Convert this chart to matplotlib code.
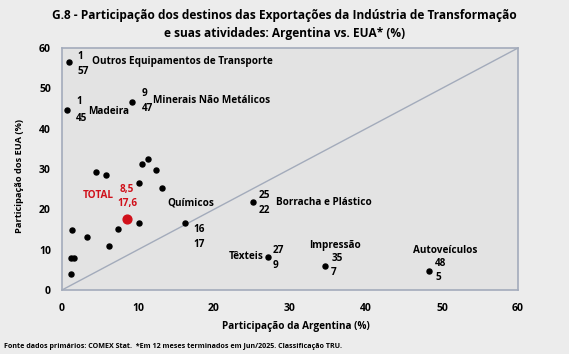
import matplotlib
matplotlib.use("Agg")
import matplotlib.pyplot as plt

# participação (%) de cada atividade: Argentina (x) vs EUA (y)
labeled_names = ["Outros Equipamentos de Transporte", "Madeira", "Minerais Não Metálicos",
                 "Químicos", "Borracha e Plástico", "Têxteis", "Impressão", "Autoveículos"]
labeled_arg = [0.9, 0.7, 9.2, 16.2, 25.1, 27.1, 34.6, 48.3]
labeled_eua = [56.6, 44.6, 46.6, 16.5, 21.8, 8.2, 6.0, 4.8]
labeled_txt_arg = ["1", "1", "9", "16", "25", "27", "35", "48"]
labeled_txt_eua = ["57", "45", "47", "17", "22", "9", "7", "5"]

other_arg = [4.5, 5.8, 10.5, 11.3, 12.4, 10.1, 13.2, 10.1, 7.4, 1.3, 3.3, 6.2, 1.2, 1.6, 1.2]
other_eua = [29.2, 28.6, 31.2, 32.4, 29.8, 26.6, 25.4, 16.6, 15.2, 14.9, 13.1, 10.8, 7.9, 7.9, 3.9]

total_arg = 8.5
total_eua = 17.6

FONT = "Open Sans"
BG = "#ececec"
AX_BG = "#e3e3e3"
EDGE = "#a3abbb"
RED = "#d0101a"

plt.rcParams["font.family"] = [FONT, "DejaVu Sans"]
plt.rcParams["font.weight"] = "bold"

fig = plt.figure(figsize=(5.69, 3.54), dpi=100, facecolor=BG)
ax = fig.add_axes([62 / 569, 1 - 290 / 354, 456 / 569, 242 / 354])
ax.set_facecolor(AX_BG)
for s in ax.spines.values():
    s.set_color(EDGE)
    s.set_linewidth(1.2)

ax.set_xlim(0, 60)
ax.set_ylim(0, 60)
ax.set_xticks(range(0, 61, 10))
ax.set_yticks(range(0, 61, 10))
ax.tick_params(length=0, labelsize=7.5)
ax.tick_params(axis="x", pad=9.5)
ax.tick_params(axis="y", pad=8)
for lbl in ax.get_xticklabels() + ax.get_yticklabels():
    lbl.set_fontweight("bold")

ax.plot([0, 60], [0, 60], color=EDGE, lw=1.0, zorder=1)

ax.scatter(other_arg, other_eua, s=13, color="black", zorder=3)
ax.scatter(labeled_arg, labeled_eua, s=13, color="black", zorder=3)
ax.scatter([total_arg], [total_eua], s=40, color=RED, zorder=4)

fs = 7.2
# offsets (pt): números x/y (dx, dy_top, dy_bottom) e nome (dx, dy, ha)
num_offsets = {
    "Outros Equipamentos de Transporte": (6.5, 4, -7),
    "Madeira": (6.5, 6, -6),
    "Minerais Não Metálicos": (7, 6.5, -5),
    "Químicos": (6, -4.5, -15),
    "Borracha e Plástico": (4, 5, -6),
    "Têxteis": (3.5, 4.5, -6),
    "Impressão": (4.5, 5, -5),
    "Autoveículos": (4.5, 5, -5),
}
name_offsets = {
    "Outros Equipamentos de Transporte": (17, 0, "left"),
    "Madeira": (15, -1, "left"),
    "Minerais Não Metálicos": (15, 1, "left"),
    "Químicos": (-13, 15, "left"),
    "Borracha e Plástico": (16.5, 0, "left"),
    "Têxteis": (-3, 0, "right"),
    "Impressão": (-11.5, 14.5, "left"),
    "Autoveículos": (-11.5, 14.5, "left"),
}
for name, x, y, tx, ty in zip(labeled_names, labeled_arg, labeled_eua,
                              labeled_txt_arg, labeled_txt_eua):
    dx, dy1, dy2 = num_offsets[name]
    ax.annotate(tx, (x, y), xytext=(dx, dy1), textcoords="offset points",
                fontsize=fs, fontweight="bold", ha="left", va="center")
    ax.annotate(ty, (x, y), xytext=(dx, dy2), textcoords="offset points",
                fontsize=fs, fontweight="bold", ha="left", va="center")
    nx, ny, ha = name_offsets[name]
    ax.annotate(name, (x, y), xytext=(nx, ny), textcoords="offset points",
                fontsize=fs, fontweight="bold", ha=ha, va="center")

ax.annotate("TOTAL", (total_arg, total_eua), xytext=(-9, 17), textcoords="offset points",
            fontsize=fs, fontweight="bold", color=RED, ha="right", va="center")
ax.annotate(f"{total_arg:.1f}".replace(".", ","), (total_arg, total_eua), xytext=(0.5, 21),
            textcoords="offset points", fontsize=fs, fontweight="bold", color=RED,
            ha="center", va="center")
ax.annotate(f"{total_eua:.1f}".replace(".", ","), (total_arg, total_eua), xytext=(0.5, 11),
            textcoords="offset points", fontsize=fs, fontweight="bold", color=RED,
            ha="center", va="center")

ax.set_xlabel("Participação da Argentina (%)", fontsize=7.2, fontweight="bold", va="center")
ax.xaxis.set_label_coords((296 - 62) / 456, -(327 - 290) / 242)
ax.set_ylabel("Participação dos EUA (%)", fontsize=6.7, fontweight="bold", va="center")
ax.yaxis.set_label_coords(-(62 - 20) / 456, (290 - 176) / 242)

fig.text(0.5, 1 - 15 / 354, "G.8 - Participação dos destinos das Exportações da Indústria de Transformação",
         ha="center", va="center", fontsize=8.6, fontweight="bold")
fig.text(0.5, 1 - 33 / 354, "e suas atividades: Argentina vs. EUA* (%)",
         ha="center", va="center", fontsize=8.6, fontweight="bold")
fig.text(4 / 569, 1 - 347 / 354,
         "Fonte dados primários: COMEX Stat.  *Em 12 meses terminados em Jun/2025. Classificação TRU.",
         ha="left", va="center", fontsize=5.1, fontweight="bold")

fig.savefig("out.png", dpi=100, facecolor=BG)
